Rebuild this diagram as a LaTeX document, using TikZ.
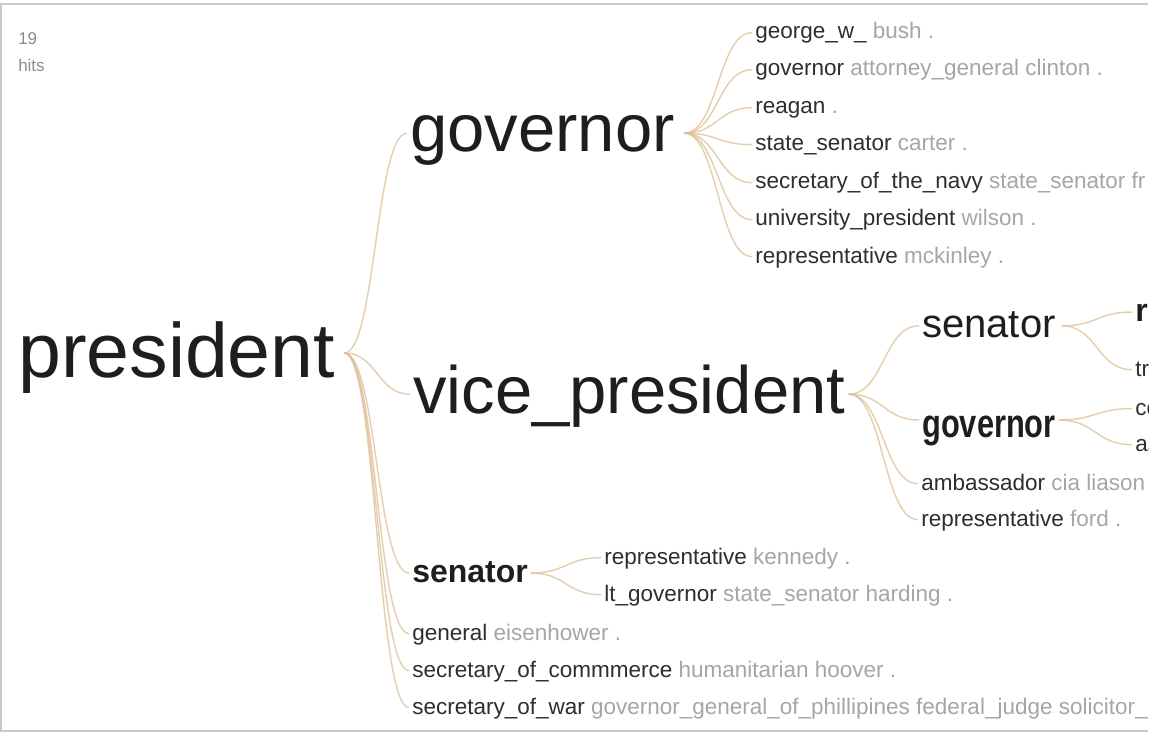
\documentclass[tikz,border=0pt]{standalone}
\usepackage{fontspec}
\setmainfont{Liberation Sans}
\usetikzlibrary{calc}
\definecolor{ink}{HTML}{1E1E1E}
\definecolor{leafink}{HTML}{2E2E2E}
\definecolor{soft}{HTML}{A6A6A6}
\definecolor{hitc}{HTML}{8C8C8C}
\definecolor{linkc}{HTML}{DDBE93}
\definecolor{framec}{HTML}{C9C9C9}
\newcommand\lw[2]{#1 \textcolor{soft}{#2}}
\newcommand\lnk[3][0]{\draw[lnk] let \p1=($(#2.east)+(#1,0)$), \p2=(#3.west), \n1={0.5*(\x2-\x1)} in (\p1) .. controls ([xshift=\n1]\p1) and ([xshift=-\n1]\p2) .. (\p2);}
\begin{document}
\begin{tikzpicture}[x=0.75pt,y=-0.75pt,
  txt/.style={anchor=base west, inner xsep=2.25pt, inner ysep=0pt, text=ink},
  hits/.style={txt, font=\fontsize{12.75pt}{14pt}\selectfont, text=hitc, text height=10pt, text depth=3pt},
  rootw/.style={txt, font=\fontsize{57.75pt}{60pt}\selectfont, text height=48pt, text depth=12pt},
  lvlone/.style={txt, font=\fontsize{50.25pt}{52pt}\selectfont, text height=39.2pt, text depth=11pt},
  lvltwo/.style={txt, font=\fontsize{30pt}{32pt}\selectfont, text height=23.4pt, text depth=6.6pt},
  lvltwob/.style={txt, font=\fontsize{30pt}{32pt}\selectfont\bfseries, text height=30pt, text depth=4.5pt},
  lvlthree/.style={txt, font=\fontsize{24pt}{26pt}\selectfont\bfseries, text height=18.7pt, text depth=5.3pt},
  leaf/.style={txt, font=\fontsize{16.875pt}{18pt}\selectfont, text=leafink, text height=13.2pt, text depth=3.7pt},
  lnk/.style={draw=linkc, line width=1.05pt, opacity=0.75},
  framel/.style={draw=framec, line width=1.5pt}]
\useasboundingbox (0,0) rectangle (1168,738);
\fill[white] (0,0) rectangle (1168,738);
\draw[framel] (0,4) -- (1148,4);
\draw[framel] (1,4) -- (1,731);
\draw[framel] (0,731) -- (1148,731);
\begin{scope}
\clip (2,5) rectangle (1148,730);
\node[hits] (n19) at (15,45) {19};
\node[hits] (nhits) at (15,72) {hits};
\node[rootw] (pres) at (15,377) {president};
\node[lvlone] (gov) at (407,152) {governor};
\node[lvlone] (vice) at (410,413) {vice\_president};
\node[lvltwo] (rsen) at (919,337) {senator};
\node[lvltwob] (rgov) at (919,437) {\scalebox{0.77}[1]{governor}};
\node[lvlthree] (bsen) at (409,582) {senator};
\node[lvlthree] (rr) at (1132,321) {r};
\node[leaf] (g1) at (752,39) {\lw{george\_w\_}{bush .}};
\node[leaf] (g2) at (752,76) {\lw{governor}{attorney\_general clinton .}};
\node[leaf] (g3) at (752,114) {\lw{reagan}{.}};
\node[leaf] (g4) at (752,151) {\lw{state\_senator}{carter .}};
\node[leaf] (g5) at (752,189) {\lw{secretary\_of\_the\_navy}{state\_senator fr}};
\node[leaf] (g6) at (752,226) {\lw{university\_president}{wilson .}};
\node[leaf] (g7) at (752,263) {\lw{representative}{mckinley .}};
\node[leaf] (va) at (918,490) {\lw{ambassador}{cia liason}};
\node[leaf] (vr) at (918,526) {\lw{representative}{ford .}};
\node[leaf] (rtr) at (1132,376) {tr};
\node[leaf] (rco) at (1132,415) {co};
\node[leaf] (ras) at (1132,451) {as};
\node[leaf] (bk) at (601,564) {\lw{representative}{kennedy .}};
\node[leaf] (bh) at (601,601) {\lw{lt\_governor}{state\_senator harding .}};
\node[leaf] (pg) at (409,640) {\lw{general}{eisenhower .}};
\node[leaf] (pc) at (409,677) {\lw{secretary\_of\_commmerce}{humanitarian hoover .}};
\node[leaf] (pw) at (409,714) {\lw{secretary\_of\_war}{governor\_general\_of\_phillipines federal\_judge solicitor\_}};
\lnk[6]{pres}{gov}
\lnk[6]{pres}{vice}
\lnk[6]{pres}{bsen}
\lnk[6]{pres}{pg}
\lnk[6]{pres}{pc}
\lnk[6]{pres}{pw}
\lnk[6]{gov}{g1}
\lnk[6]{gov}{g2}
\lnk[6]{gov}{g3}
\lnk[6]{gov}{g4}
\lnk[6]{gov}{g5}
\lnk[6]{gov}{g6}
\lnk[6]{gov}{g7}
\lnk{vice}{rsen}
\lnk{vice}{rgov}
\lnk{vice}{va}
\lnk{vice}{vr}
\lnk[3]{rsen}{rr}
\lnk[3]{rsen}{rtr}
\lnk{rgov}{rco}
\lnk{rgov}{ras}
\lnk{bsen}{bk}
\lnk{bsen}{bh}
\end{scope}
\end{tikzpicture}
\end{document}
